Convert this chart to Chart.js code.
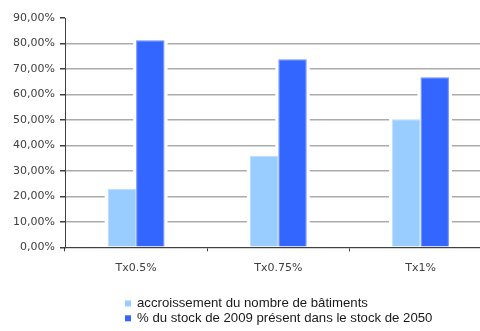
<!DOCTYPE html>
<html>
<head>
<meta charset="utf-8">
<script src="https://cdn.jsdelivr.net/npm/chart.js@4/dist/chart.umd.min.js"></script>
<style>
  html, body { margin: 0; padding: 0; background: #ffffff; overflow: hidden; width: 480px; height: 331px; }
  canvas { display: block; }
</style>
</head>
<body>
<canvas id="c" width="500" height="331"></canvas>
<script>
// Growth scenarios and the two measured shares (in %)
const categories = ['Tx0.5%', 'Tx0.75%', 'Tx1%'];
const accroissement = [23.0, 35.9, 50.3];
const stock2009 = [81.3, 73.8, 66.7];
const seriesNames = [
  'accroissement du nombre de bâtiments',
  '% du stock de 2009 présent dans le stock de 2050'
];
const yMax = 90;
const yStep = 10;

const AXIS = '#404040';
const GRID = '#ababab';

// Clears a thin white margin behind each bar so the grid stops short of it
const barGap = {
  id: 'barGap',
  beforeDatasetsDraw(chart) {
    const ctx = chart.ctx;
    ctx.save();
    ctx.fillStyle = '#ffffff';
    chart.data.datasets.forEach((ds, i) => {
      chart.getDatasetMeta(i).data.forEach(bar => {
        const p = bar.getProps(['x', 'y', 'base', 'width'], true);
        ctx.fillRect(p.x - p.width / 2 - 3, p.y - 1, p.width + 6, p.base - p.y);
      });
    });
    ctx.restore();
  }
};

// Vertical legend below the plot
const stackedLegend = {
  id: 'stackedLegend',
  afterDraw(chart) {
    const ctx = chart.ctx;
    ctx.save();
    ctx.font = '13.2px "Liberation Sans", Arial, sans-serif';
    ctx.textBaseline = 'middle';
    chart.data.datasets.forEach((ds, i) => {
      const cy = 303.5 + i * 14.8;
      ctx.fillStyle = ds.backgroundColor;
      ctx.fillRect(125, cy - 3, 6, 6);
      ctx.fillStyle = '#1a1a1a';
      ctx.fillText(ds.label, 137, cy);
    });
    ctx.restore();
  }
};

new Chart(document.getElementById('c'), {
  type: 'bar',
  data: {
    labels: categories,
    datasets: [
      {
        label: seriesNames[0],
        data: accroissement,
        backgroundColor: '#99ccff',
        borderColor: '#b8dcff',
        borderWidth: 1,
        categoryPercentage: 0.4,
        barPercentage: 1.0
      },
      {
        label: seriesNames[1],
        data: stock2009,
        backgroundColor: '#3366ff',
        borderColor: '#6b8fff',
        borderWidth: 1,
        categoryPercentage: 0.4,
        barPercentage: 1.0
      }
    ]
  },
  options: {
    responsive: false,
    animation: false,
    devicePixelRatio: 1,
    layout: { padding: { left: 0, right: 8.4, top: 18, bottom: 48.7 } },
    plugins: {
      legend: { display: false },
      tooltip: { enabled: false }
    },
    scales: {
      x: {
        offset: true,
        grid: {
          offset: true,
          drawOnChartArea: false,
          tickLength: 4,
          tickColor: AXIS
        },
        border: { display: true, color: AXIS, width: 1 },
        ticks: {
          color: AXIS,
          padding: 10,
          font: { family: '"DejaVu Sans", Verdana, sans-serif', size: 11 }
        },
        afterFit(scale) { scale.height = 35; }
      },
      y: {
        min: 0,
        max: yMax,
        ticks: {
          stepSize: yStep,
          color: AXIS,
          padding: 5,
          font: { family: '"DejaVu Sans", Verdana, sans-serif', size: 11 },
          callback: v => v.toFixed(2).replace('.', ',') + '%'
        },
        grid: {
          color: ctx => (ctx.tick && ctx.tick.value === yMax) ? 'rgba(0,0,0,0)' : GRID,
          lineWidth: 1.5,
          tickLength: 5,
          tickColor: AXIS
        },
        border: { display: true, color: AXIS, width: 1 },
        afterFit(scale) { scale.width = 65; }
      }
    }
  },
  plugins: [barGap, stackedLegend]
});
</script>
</body>
</html>
